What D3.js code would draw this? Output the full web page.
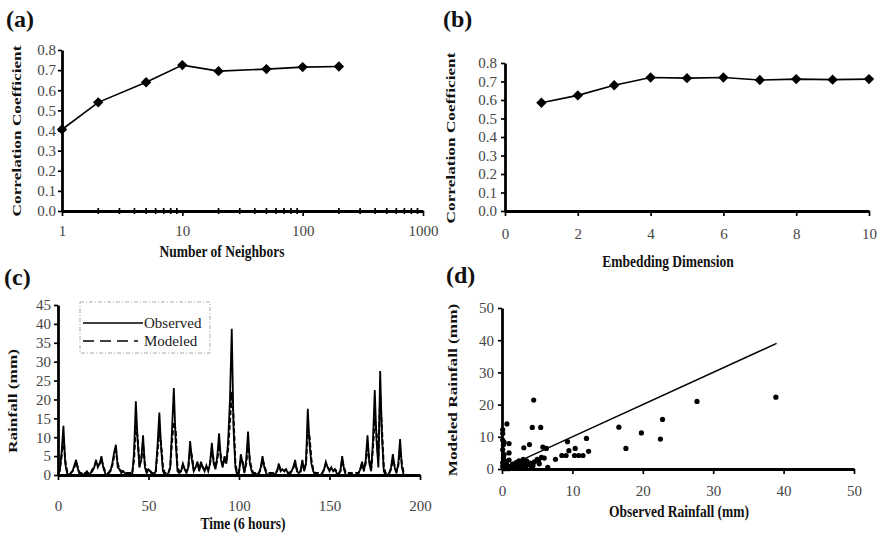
<!doctype html>
<html>
  <head>
    <meta charset="utf-8">
    <title>Rainfall prediction panels</title>
    <script src="https://cdnjs.cloudflare.com/ajax/libs/d3/7.8.5/d3.min.js"></script>
    <style>
      body { margin: 0; background: #fff; }
      svg { display: block; }
      text { font-family: "Liberation Serif", "Times New Roman", serif; }
      .tick text { fill: #444; }
      .title { font-weight: bold; font-size: 13.5px; fill: #111; }
      .panel { font-weight: bold; font-size: 24px; fill: #111; }
    </style>
  </head>
  <body>
    <div id="chart"></div>
    <script>
      // Data
      const neighbors = [1, 2, 5, 10, 20, 50, 100, 200];
      const corrNeighbors = [0.405, 0.54, 0.64, 0.725, 0.695, 0.705, 0.715, 0.718];

      const dims = [1, 2, 3, 4, 5, 6, 7, 8, 9, 10];
      const corrDims = [0.585, 0.625, 0.68, 0.722, 0.718, 0.722, 0.708, 0.713, 0.71, 0.713];

      const corrTicks = [0, 0.1, 0.2, 0.3, 0.4, 0.5, 0.6, 0.7, 0.8];
      const neighborTicks = [1, 10, 100, 1000];
      const dimTicks = [0, 2, 4, 6, 8, 10];
      const rainTicks = [0, 5, 10, 15, 20, 25, 30, 35, 40, 45];
      const timeTicks = [0, 50, 100, 150, 200];
      const scatterTicks = [0, 10, 20, 30, 40, 50];

      // 6-hourly rainfall (mm), t = 0..191
      const observed = [
        0.5, 1, 6, 13, 3, 0.5, 0, 0.5, 1, 2.5,
        4, 1.5, 0, 0.5, 0, 0.5, 1, 0, 0.5, 1,
        2, 4, 2, 3, 5, 2, 0.5, 0, 0.5, 1,
        3, 6, 8, 2, 1.5, 0.5, 1, 0.5, 0, 0,
        0.5, 0, 6, 19.5, 9, 2, 4, 10.5, 2, 0.5,
        1.5, 1, 0, 0, 1, 8, 16.5, 7, 1, 0,
        0, 0.5, 2, 12, 23, 9, 1, 0.5, 1, 3,
        1.5, 0.5, 2, 9, 4, 1, 2, 3.5, 1, 3.5,
        2, 1, 2.5, 1, 3, 8.5, 3, 1.5, 5, 11,
        4, 2, 5, 3, 9, 20, 38.7, 12, 2, 0,
        0.5, 5.5, 3, 0.5, 4, 11.5, 3, 1, 0, 0.5,
        0, 0.5, 2, 5, 2, 0.5, 0, 0, 0, 0.5,
        0, 1, 3, 1, 1.5, 1, 1.5, 0.5, 0, 1,
        2, 4, 1, 0.5, 1, 4, 1, 3, 17.5, 8,
        3, 1, 0, 0, 0, 0, 0.5, 1.5, 3.5, 2,
        1, 2, 1, 1.5, 0.5, 0, 1, 5, 1.5, 0,
        0, 0, 0, 0, 0, 0, 0.5, 1.5, 3.5, 1,
        4, 10.5, 3, 1, 9, 22.5, 9, 2, 27.5, 10,
        1, 0, 0, 0.5, 2, 5.5, 2, 0.5, 3, 9.5,
        2, 0
      ];
      const modeled = [
        0.3, 1.5, 5, 10, 4, 1, 0.5, 0.5, 1, 2,
        3.5, 2, 0.5, 0.5, 0.5, 0.5, 0.5, 0.5, 0.5, 1.5,
        2, 3.5, 2.5, 3, 4, 2.5, 1, 0.5, 0.5, 1.5,
        2.5, 5, 6.5, 3, 1.5, 1, 1, 0.5, 0.5, 0.5,
        0.5, 0.5, 4, 13, 10, 3, 4, 8, 3, 1,
        1.5, 1, 0.5, 0.5, 1, 6, 12, 8, 2, 0.5,
        0.5, 0.5, 2, 9, 14, 12, 2, 1, 1, 2.5,
        1.5, 1, 2, 7, 5, 1.5, 2, 3, 1.5, 3,
        2, 1.5, 2, 1.5, 3, 7, 4, 2, 4, 8,
        5, 2.5, 4, 3.5, 7, 14, 22, 15, 3, 0.5,
        1, 4, 3.5, 1, 3, 8.5, 4, 1.5, 0.5, 0.5,
        0.5, 0.5, 1.5, 4, 2.5, 1, 0.5, 0.5, 0.5, 0.5,
        0.5, 1, 2.5, 1.5, 1.5, 1, 1.5, 1, 0.5, 1,
        2, 3, 1.5, 1, 1, 3, 1.5, 3, 12, 10,
        4, 1.5, 0.5, 0.5, 0.5, 0.5, 0.5, 1.5, 3, 2,
        1.5, 1.5, 1, 1.5, 1, 0.5, 1, 4, 2, 0.5,
        0.5, 0.5, 0.5, 0.5, 0.5, 0.5, 0.5, 1.5, 3, 1.5,
        3, 8, 4, 1.5, 7, 15, 11, 4, 21, 12,
        2, 0.5, 0.5, 0.5, 1.5, 4, 2.5, 1, 2.5, 7,
        3, 0.5
      ];

      // Scatter: observed vs modeled (mm)
      const scatterObs = [
        4.5, 0.7, 4.3, 5.5, 1.0, 1.0, 3.1, 3.9, 5.8, 6.3,
        9.3, 9.5, 10.4, 12, 7.6, 8.5, 9.1, 10.3, 10.9, 11.5,
        12.3, 16.6, 17.6, 19.8, 22.5, 22.8, 27.7, 38.9,
        0.1, 0.1, 0.2, 0.1, 0.3, 0.2, 0.4, 0.1, 0.6, 0.3,
        0.8, 1.2, 1.5, 1.8, 2.1, 2.5, 2.8, 3.2, 3.5, 3.8,
        4.2, 4.6, 5.0, 5.3, 5.6, 6.0, 0.2, 0.5, 0.9, 1.3,
        0.1, 2.0, 1.0, 0.4, 3.0, 2.4, 6.5, 1.6, 2.2, 3.4,
        4.0, 0.7, 1.1, 0.3, 2.7, 5.2, 0.2, 0.6, 1.4, 1.9,
        2.6, 3.3, 4.4, 0.1, 0.3
      ];
      const scatterMod = [
        21.4, 14, 12.9, 12.9, 7.9, 5, 6.6, 7.6, 6.8, 6.4,
        8.5, 5.7, 6.4, 9.5, 3, 4.2, 4.2, 4.2, 4.2, 4.2,
        5.5, 13, 6.4, 11.2, 9.3, 15.4, 21, 22.3,
        11, 9, 7.5, 6, 4.5, 3.5, 2.5, 2, 1.8, 1.2,
        1, 0.8, 1.5, 0.5, 1.2, 0.3, 1.8, 0.6, 2.5, 1.3,
        0.4, 2.2, 3, 1.6, 3.6, 3.4, 0.2, 0.5, 0.1, 0.2,
        0.8, 2, 2.8, 0.1, 3, 2.5, 0.5, 0.4, 0.2, 1.0,
        1.8, 0.3, 0.6, 0.5, 0.9, 2.6, 1.4, 2.2, 0.9, 1.6,
        0.7, 1.5, 1.0, 12.2, 8.3
      ];
      const fitRange = [0, 39];

      const svg = d3.select('#chart')
        .append('svg')
        .attr('width', 877)
        .attr('height', 536);

      function styleAxis(g) {
        g.select('.domain').attr('stroke', '#000').attr('stroke-width', 2.8);
        g.selectAll('.tick line').attr('stroke', '#000').attr('stroke-width', 1.7);
        g.selectAll('.tick text').attr('font-size', 15);
      }

      function drawAxes(x, y, xAxis, yAxis) {
        const gy = svg.append('g')
          .attr('transform', `translate(${x.range()[0]},0)`)
          .call(yAxis);
        styleAxis(gy);
        const gx = svg.append('g')
          .attr('transform', `translate(0,${y.range()[0]})`)
          .call(xAxis);
        styleAxis(gx);
        return gx;
      }

      // the source figure is stretched vertically, so titles get a y-scale
      function label(text, x, y, cls, rotate) {
        const t = svg.append('text')
          .attr('class', cls)
          .attr('text-anchor', cls === 'panel' ? 'start' : 'middle')
          .text(text);
        if (cls === 'panel') t.attr('x', x).attr('y', y);
        else t.attr('transform', `translate(${x},${y}) scale(1,1.28)` + (rotate ? ' rotate(-90)' : ''));
        return t;
      }

      const diamond = d3.symbol().type(d3.symbolSquare).size(54);

      // ---------- (a) ----------
      const xa = d3.scaleLog().domain([1, 1000]).range([62, 423]);
      const ya = d3.scaleLinear().domain([0, 0.8]).range([211, 50]);
      const gxa = drawAxes(xa, ya,
        d3.axisBottom(xa).tickValues(neighborTicks).tickFormat(d3.format('d'))
          .tickSize(5).tickSizeOuter(0).tickPadding(9),
        d3.axisLeft(ya).tickValues(corrTicks).tickFormat(d3.format('.1f'))
          .tickSize(4).tickSizeOuter(0).tickPadding(2));
      // minor log ticks
      const minorTicks = xa.ticks().filter(v => !neighborTicks.includes(v));
      gxa.selectAll('line.minor')
        .data(minorTicks)
        .join('line')
        .attr('class', 'minor')
        .attr('x1', d => xa(d)).attr('x2', d => xa(d))
        .attr('y1', -3).attr('y2', 3)
        .attr('stroke', '#000').attr('stroke-width', 1.7);

      const ptsA = neighbors.map((n, i) => [n, corrNeighbors[i]]);
      svg.append('path')
        .datum(ptsA)
        .attr('fill', 'none')
        .attr('stroke', '#000')
        .attr('stroke-width', 1.6)
        .attr('d', d3.line().x(d => xa(d[0])).y(d => ya(d[1])));
      svg.selectAll('path.da')
        .data(ptsA)
        .join('path')
        .attr('class', 'da')
        .attr('d', diamond)
        .attr('transform', d => `translate(${xa(d[0])},${ya(d[1])}) rotate(45)`)
        .attr('fill', '#000');

      label('(a)', 6, 27, 'panel');
      label('Number of Neighbors', 222, 257, 'title');
      label('Correlation Coefficient', 21, 131, 'title', true);

      // ---------- (b) ----------
      const xb = d3.scaleLinear().domain([0, 10]).range([505, 869]);
      const yb = d3.scaleLinear().domain([0, 0.8]).range([211, 63]);
      drawAxes(xb, yb,
        d3.axisBottom(xb).tickValues(dimTicks).tickSize(5).tickSizeOuter(0).tickPadding(12),
        d3.axisLeft(yb).tickValues(corrTicks).tickFormat(d3.format('.1f'))
          .tickSize(4).tickSizeOuter(0).tickPadding(4));

      const ptsB = dims.map((n, i) => [n, corrDims[i]]);
      svg.append('path')
        .datum(ptsB)
        .attr('fill', 'none')
        .attr('stroke', '#000')
        .attr('stroke-width', 1.6)
        .attr('d', d3.line().x(d => xb(d[0])).y(d => yb(d[1])));
      svg.selectAll('path.db')
        .data(ptsB)
        .join('path')
        .attr('class', 'db')
        .attr('d', diamond)
        .attr('transform', d => `translate(${xb(d[0])},${yb(d[1])}) rotate(45)`)
        .attr('fill', '#000');

      label('(b)', 443, 27, 'panel');
      label('Embedding Dimension', 668, 267, 'title');
      label('Correlation Coefficient', 455, 138, 'title', true);

      // ---------- (c) ----------
      const xc = d3.scaleLinear().domain([0, 200]).range([58, 420]);
      const yc = d3.scaleLinear().domain([0, 45]).range([475, 305]);
      drawAxes(xc, yc,
        d3.axisBottom(xc).tickValues(timeTicks).tickSize(5).tickSizeOuter(0).tickPadding(20),
        d3.axisLeft(yc).tickValues(rainTicks).tickSize(4).tickSizeOuter(0).tickPadding(3));

      const lineC = d3.line().x((d, i) => xc(i)).y(d => yc(d));
      svg.append('path')
        .datum(modeled)
        .attr('fill', 'none')
        .attr('stroke', '#000')
        .attr('stroke-width', 2)
        .attr('stroke-dasharray', '5,2.5')
        .attr('d', lineC);
      svg.append('path')
        .datum(observed)
        .attr('fill', 'none')
        .attr('stroke', '#000')
        .attr('stroke-width', 1.8)
        .attr('d', lineC);

      // legend
      const leg = svg.append('g');
      leg.append('rect')
        .attr('x', 80).attr('y', 302).attr('width', 130).attr('height', 51)
        .attr('fill', '#fff')
        .attr('stroke', '#aaa')
        .attr('stroke-width', 1)
        .attr('stroke-dasharray', '4,2,1,2');
      leg.append('line')
        .attr('x1', 83).attr('x2', 143).attr('y1', 323).attr('y2', 323)
        .attr('stroke', '#000').attr('stroke-width', 1.5);
      leg.append('line')
        .attr('x1', 83).attr('x2', 138).attr('y1', 341).attr('y2', 341)
        .attr('stroke', '#000').attr('stroke-width', 1.5)
        .attr('stroke-dasharray', '11,6');
      leg.append('text').attr('x', 144).attr('y', 328)
        .attr('font-size', 15).attr('fill', '#222').text('Observed');
      leg.append('text').attr('x', 144).attr('y', 346)
        .attr('font-size', 15).attr('fill', '#222').text('Modeled');

      label('(c)', 4, 285, 'panel');
      label('Time (6 hours)', 243, 529, 'title');
      label('Rainfall (mm)', 17, 401, 'title', true);

      // ---------- (d) ----------
      const xd = d3.scaleLinear().domain([0, 50]).range([502, 854]);
      const yd = d3.scaleLinear().domain([0, 50]).range([469, 308]);
      drawAxes(xd, yd,
        d3.axisBottom(xd).tickValues(scatterTicks).tickSize(5).tickSizeOuter(0).tickPadding(11),
        d3.axisLeft(yd).tickValues(scatterTicks).tickSize(4).tickSizeOuter(0).tickPadding(4));

      svg.append('line')
        .attr('x1', xd(fitRange[0])).attr('y1', yd(fitRange[0]))
        .attr('x2', xd(fitRange[1])).attr('y2', yd(fitRange[1]))
        .attr('stroke', '#000').attr('stroke-width', 1.5);

      svg.selectAll('circle.pt')
        .data(scatterObs.map((o, i) => [o, scatterMod[i]]))
        .join('circle')
        .attr('class', 'pt')
        .attr('cx', d => xd(d[0]))
        .attr('cy', d => yd(d[1]))
        .attr('r', 2.6)
        .attr('fill', '#000');

      label('(d)', 446, 283, 'panel');
      label('Observed Rainfall (mm)', 679, 517, 'title');
      label('Modeled Rainfall (mm)', 457, 390, 'title', true);
    </script>
  </body>
</html>
